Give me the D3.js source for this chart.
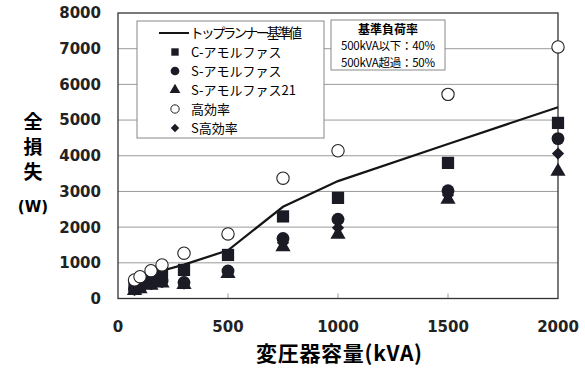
<!DOCTYPE html>
<html>
<head>
<meta charset="utf-8">
<script src="https://cdn.jsdelivr.net/npm/d3@7"></script>
<style>
  body { margin: 0; background: #fff; }
  svg text { font-family: "DejaVu Sans", "Liberation Sans", "Noto Sans CJK JP", sans-serif; }
</style>
</head>
<body>
<svg id="chart" width="585" height="373"></svg>
<script>
// data
const kva = [75, 100, 150, 200, 300, 500, 750, 1000, 1500, 2000];
const topRunner = [400, 480, 620, 780, 950, 1350, 2570, 3290, 4330, 5360];
const cAmorph = [330, 400, 530, 650, 800, 1220, 2300, 2820, 3800, 4920];
const sAmorph = [270, 320, 430, 490, 450, 770, 1680, 2220, 3020, 4480];
const sAmorph21 = [220, 270, 370, 430, 390, 700, 1450, 1800, 2780, 3560];
const highEff = [520, 610, 780, 940, 1270, 1810, 3370, 4140, 5720, 7050];
const sHighEff = [240, 290, 400, 460, 420, 740, 1560, 1980, 2900, 4060];

const xTicks = [0, 500, 1000, 1500, 2000];
const yTicks = [0, 1000, 2000, 3000, 4000, 5000, 6000, 7000, 8000];

const MARGIN = { top: 13, right: 27, bottom: 74.5, left: 118 };
const width = 585, height = 373;
const boundsWidth = width - MARGIN.left - MARGIN.right;
const boundsHeight = height - MARGIN.top - MARGIN.bottom;
const ink = "#1b1b26";
const cjk = "'Noto Sans CJK JP', sans-serif";

const svg = d3.select("#chart");
const g = svg.append("g").attr("transform", `translate(${MARGIN.left},${MARGIN.top})`);

const x = d3.scaleLinear().domain([0, 2000]).range([0, boundsWidth]);
const y = d3.scaleLinear().domain([0, 8000]).range([boundsHeight, 0]);

// grid
g.selectAll(".grid")
  .data(yTicks.slice(1, -1))
  .join("line")
  .attr("x1", 0).attr("x2", boundsWidth)
  .attr("y1", (d) => y(d)).attr("y2", (d) => y(d))
  .attr("stroke", "#9a9a9a").attr("stroke-width", 1);

// small inner ticks on x
g.selectAll(".xt")
  .data(xTicks.slice(1, -1))
  .join("line")
  .attr("x1", (d) => x(d)).attr("x2", (d) => x(d))
  .attr("y1", boundsHeight).attr("y2", boundsHeight - 5)
  .attr("stroke", "#999");

g.append("rect")
  .attr("width", boundsWidth).attr("height", boundsHeight)
  .attr("fill", "none").attr("stroke", "#333").attr("stroke-width", 1.3);

// tick labels
g.selectAll(".yl")
  .data(yTicks)
  .join("text")
  .attr("x", -17).attr("y", (d) => y(d)).attr("dy", "0.36em")
  .attr("text-anchor", "end")
  .style("font-size", "15px").style("font-weight", "bold").style("fill", "#222")
  .text((d) => d);

g.selectAll(".xl")
  .data(xTicks)
  .join("text")
  .attr("x", (d) => x(d)).attr("y", boundsHeight + 33)
  .attr("text-anchor", "middle")
  .style("font-size", "15px").style("font-weight", "bold").style("fill", "#222")
  .text((d) => d);

// axis titles
svg.append("text")
  .attr("x", 339).attr("y", 361)
  .attr("text-anchor", "middle")
  .style("font-family", cjk).style("font-size", "21px").style("font-weight", "bold")
  .attr("textLength", 166)
  .text("変圧器容量(kVA)");

const yTitle = ["全", "損", "失"];
svg.selectAll(".yt")
  .data(yTitle)
  .join("text")
  .attr("x", 33).attr("y", (d, i) => 129 + i * 25)
  .attr("text-anchor", "middle")
  .style("font-family", cjk).style("font-size", "19px").style("font-weight", "bold")
  .text((d) => d);
svg.append("text")
  .attr("x", 33).attr("y", 212)
  .attr("text-anchor", "middle")
  .style("font-size", "15px").style("font-weight", "bold")
  .text("(W)");

// top runner line
const line = d3.line().x((d) => x(d[0])).y((d) => y(d[1]));
g.append("path")
  .datum(d3.zip(kva, topRunner))
  .attr("d", line)
  .attr("fill", "none").attr("stroke", "#151515").attr("stroke-width", 2.2);

const sym = {
  square: d3.symbol().type(d3.symbolSquare).size(150),
  circle: d3.symbol().type(d3.symbolCircle).size(130),
  triangle: d3.symbol().type(d3.symbolTriangle).size(100),
  diamond: d3.symbol().type(d3.symbolSquare).size(75),
  open: d3.symbol().type(d3.symbolCircle).size(120)
};

const series = [
  { name: "S-アモルファス21", values: sAmorph21, shape: "triangle" },
  { name: "S高効率", values: sHighEff, shape: "diamond" },
  { name: "S-アモルファス", values: sAmorph, shape: "circle" },
  { name: "C-アモルファス", values: cAmorph, shape: "square" },
  { name: "高効率", values: highEff, shape: "open" }
];

series.forEach((s) => {
  g.selectAll(null)
    .data(d3.zip(kva, s.values))
    .join("path")
    .attr("transform", (d) => `translate(${x(d[0])},${y(d[1])})` + (s.shape === "diamond" ? " rotate(45)" : ""))
    .attr("d", sym[s.shape]())
    .attr("fill", s.shape === "open" ? "#fff" : ink)
    .attr("stroke", s.shape === "open" ? "#222" : "none")
    .attr("stroke-width", 1.1);
});

// legend
const lg = svg.append("g").attr("transform", "translate(137,21)");
lg.append("rect")
  .attr("width", 187).attr("height", 117)
  .attr("fill", "#fff").attr("stroke", "#888").attr("stroke-width", 1);
lg.append("line")
  .attr("x1", 22).attr("x2", 52).attr("y1", 12).attr("y2", 12)
  .attr("stroke", "#151515").attr("stroke-width", 2);
lg.append("text")
  .attr("x", 53).attr("y", 17)
  .style("font-family", cjk).style("font-size", "13.5px")
  .attr("textLength", 112)
  .text("トップランナー基準値");

const legendItems = [
  { name: "C-アモルファス", shape: "square" },
  { name: "S-アモルファス", shape: "circle" },
  { name: "S-アモルファス21", shape: "triangle" },
  { name: "高効率", shape: "open" },
  { name: "S高効率", shape: "diamond" }
];
const lgSym = {
  square: d3.symbol().type(d3.symbolSquare).size(55),
  circle: d3.symbol().type(d3.symbolCircle).size(60),
  triangle: d3.symbol().type(d3.symbolTriangle).size(50),
  diamond: d3.symbol().type(d3.symbolSquare).size(36),
  open: d3.symbol().type(d3.symbolCircle).size(55)
};
const rows = lg.selectAll(".row")
  .data(legendItems)
  .join("g")
  .attr("transform", (d, i) => `translate(0,${31 + i * 19})`);
rows.append("path")
  .attr("transform", (d) => "translate(38,0)" + (d.shape === "diamond" ? " rotate(45)" : ""))
  .attr("d", (d) => lgSym[d.shape]())
  .attr("fill", (d) => (d.shape === "open" ? "#fff" : ink))
  .attr("stroke", (d) => (d.shape === "open" ? "#222" : "none"));
rows.append("text")
  .attr("x", 54).attr("y", 5)
  .style("font-family", cjk).style("font-size", "13px")
  .text((d) => d.name);

// load-factor box
const bx = svg.append("g").attr("transform", "translate(331,20)");
bx.append("rect")
  .attr("width", 114).attr("height", 50)
  .attr("fill", "#fff").attr("stroke", "#888");
bx.append("text")
  .attr("x", 57).attr("y", 14).attr("text-anchor", "middle")
  .style("font-family", cjk).style("font-size", "12px").style("font-weight", "bold")
  .text("基準負荷率");
bx.selectAll(".lf")
  .data(["500kVA以下：40%", "500kVA超過：50%"])
  .join("text")
  .attr("x", 57).attr("y", (d, i) => 30 + i * 17).attr("text-anchor", "middle")
  .style("font-family", cjk).style("font-size", "11.5px")
  .attr("textLength", 94)
  .text((d) => d);
</script>
</body>
</html>
